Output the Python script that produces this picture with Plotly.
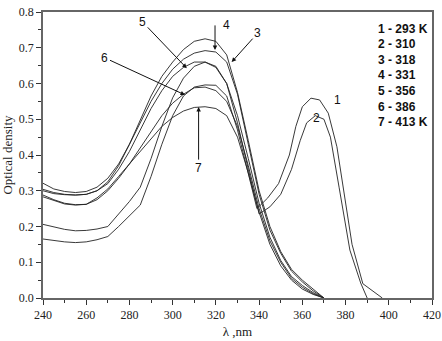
import plotly.graph_objects as go

# wavelength grid (nm) shared by curves 3-7
wl = [240, 245, 250, 255, 260, 265, 270, 275, 280, 285, 290, 295, 300, 305,
      310, 315, 320, 325, 330, 335, 340, 345, 350, 355, 360, 365, 370]

# curves 1 and 2 have the extra band near 365 nm
wl1 = [240, 245, 250, 255, 260, 265, 270, 275, 280, 285, 290, 295, 300, 305,
       310, 315, 320, 325, 330, 335, 339, 344, 349, 354, 357, 360, 364, 368,
       372, 376, 379, 383, 388, 397]
od1 = [0.165, 0.160, 0.157, 0.155, 0.157, 0.163, 0.172, 0.200, 0.230, 0.260,
       0.340, 0.430, 0.510, 0.565, 0.590, 0.596, 0.595, 0.565, 0.470, 0.350,
       0.250, 0.280, 0.320, 0.400, 0.480, 0.535, 0.559, 0.554, 0.517, 0.423,
       0.300, 0.150, 0.040, 0.0]

wl2 = [240, 245, 250, 255, 260, 265, 270, 275, 280, 285, 290, 295, 300, 305,
       310, 315, 320, 325, 330, 335, 340, 345, 350, 355, 359, 362, 366, 370,
       373, 377, 380, 382, 387, 390]
od2 = [0.206, 0.198, 0.192, 0.188, 0.189, 0.193, 0.200, 0.235, 0.270, 0.310,
       0.390, 0.480, 0.560, 0.615, 0.648, 0.660, 0.648, 0.600, 0.490, 0.360,
       0.235, 0.255, 0.290, 0.360, 0.440, 0.490, 0.510, 0.500, 0.450, 0.310,
       0.200, 0.134, 0.042, 0.0]

od3 = [0.300, 0.292, 0.289, 0.288, 0.290, 0.300, 0.325, 0.370, 0.430, 0.500,
       0.565, 0.620, 0.660, 0.695, 0.718, 0.725, 0.718, 0.680, 0.575, 0.440,
       0.300, 0.200, 0.130, 0.080, 0.050, 0.025, 0.0]
od4 = [0.321, 0.305, 0.298, 0.295, 0.298, 0.310, 0.335, 0.375, 0.430, 0.490,
       0.550, 0.600, 0.640, 0.668, 0.685, 0.692, 0.688, 0.660, 0.570, 0.430,
       0.290, 0.190, 0.125, 0.075, 0.045, 0.020, 0.0]
od5 = [0.304, 0.295, 0.290, 0.288, 0.290, 0.300, 0.320, 0.360, 0.410, 0.470,
       0.530, 0.580, 0.620, 0.645, 0.660, 0.660, 0.645, 0.600, 0.510, 0.390,
       0.265, 0.170, 0.105, 0.060, 0.035, 0.015, 0.0]
od6 = [0.288, 0.275, 0.265, 0.261, 0.262, 0.275, 0.300, 0.335, 0.375, 0.420,
       0.465, 0.510, 0.545, 0.570, 0.588, 0.590, 0.580, 0.550, 0.480, 0.370,
       0.250, 0.160, 0.100, 0.055, 0.030, 0.012, 0.0]
od7 = [0.283, 0.272, 0.263, 0.260, 0.262, 0.280, 0.305, 0.340, 0.375, 0.410,
       0.445, 0.480, 0.505, 0.523, 0.533, 0.535, 0.530, 0.510, 0.450, 0.350,
       0.240, 0.150, 0.090, 0.050, 0.025, 0.010, 0.0]

legend_lines = ['1 - 293 K', '2 - 310', '3 - 318', '4 - 331',
                '5 - 356', '6 - 386', '7 - 413 K']

series = [(wl1, od1), (wl2, od2), (wl, od3), (wl, od4),
          (wl, od5), (wl, od6), (wl, od7)]

fig = go.Figure()
for x, y in series:
    fig.add_trace(go.Scatter(x=x, y=y, mode='lines',
                             line=dict(color='#222', width=0.9),
                             showlegend=False, hoverinfo='skip'))

serif = 'Liberation Serif'
lab_font = dict(family='Liberation Sans', size=12, color='#111')
arr = dict(showarrow=True, arrowhead=2, arrowsize=0.9, arrowwidth=1,
           arrowcolor='#111', font=lab_font)

# numbered labels with arrows
fig.add_annotation(x=306.5, y=0.643, text='5', ax=-44, ay=-46, **arr)
fig.add_annotation(x=305.7, y=0.568, text='6', ax=-80, ay=-37, **arr)
fig.add_annotation(x=327.3, y=0.660, text='3', ax=26, ay=-29, **arr)
fig.add_annotation(x=312.0, y=0.534, text='7', ax=0, ay=61, **arr)
fig.add_annotation(x=319.6, y=0.694, text='', ax=0, ay=-26, **arr)
fig.add_annotation(x=325.1, y=0.764, text='4', showarrow=False, font=lab_font)
fig.add_annotation(x=376.5, y=0.553, text='1', showarrow=False, font=lab_font)
fig.add_annotation(x=366.5, y=0.503, text='2', showarrow=False, font=lab_font)

# temperature key
for i, t in enumerate(legend_lines):
    fig.add_annotation(xref='paper', yref='paper', x=0.857, xanchor='left',
                       y=0.942 - i * 0.0545, yanchor='middle', text=t,
                       showarrow=False,
                       font=dict(family='Liberation Sans', size=12,
                                 color='#111', weight='bold'))

axis_common = dict(showgrid=False, zeroline=False, showline=True,
                   linecolor='#666', linewidth=1.5, mirror=True,
                   automargin=False,
                   ticks='outside', ticklen=5, tickcolor='#333',
                   tickfont=dict(family=serif, size=12, color='#222'))

fig.update_xaxes(range=[240, 420], dtick=20, tick0=240,
                 minor=dict(dtick=10, ticks='outside', ticklen=3,
                            tickcolor='#333'),
                 title=dict(text='λ ,nm', standoff=6,
                            font=dict(family=serif, size=13, color='#222')),
                 **axis_common)
fig.update_yaxes(range=[0, 0.8], dtick=0.1, tick0=0, tickformat='.1f',
                 minor=dict(dtick=0.05, ticks='outside', ticklen=3,
                            tickcolor='#333'),
                 title=dict(text='Optical density', standoff=4,
                            font=dict(family=serif, size=13, color='#222')),
                 **axis_common)

fig.update_layout(width=442, height=341,
                  margin=dict(l=43, r=10, t=12, b=43),
                  plot_bgcolor='white', paper_bgcolor='white')

# page body has a default 8px margin; drop it so the figure sits at 0,0
fig.write_html('out.html', config={'displayModeBar': False},
               post_script="document.body.style.margin='0';")
